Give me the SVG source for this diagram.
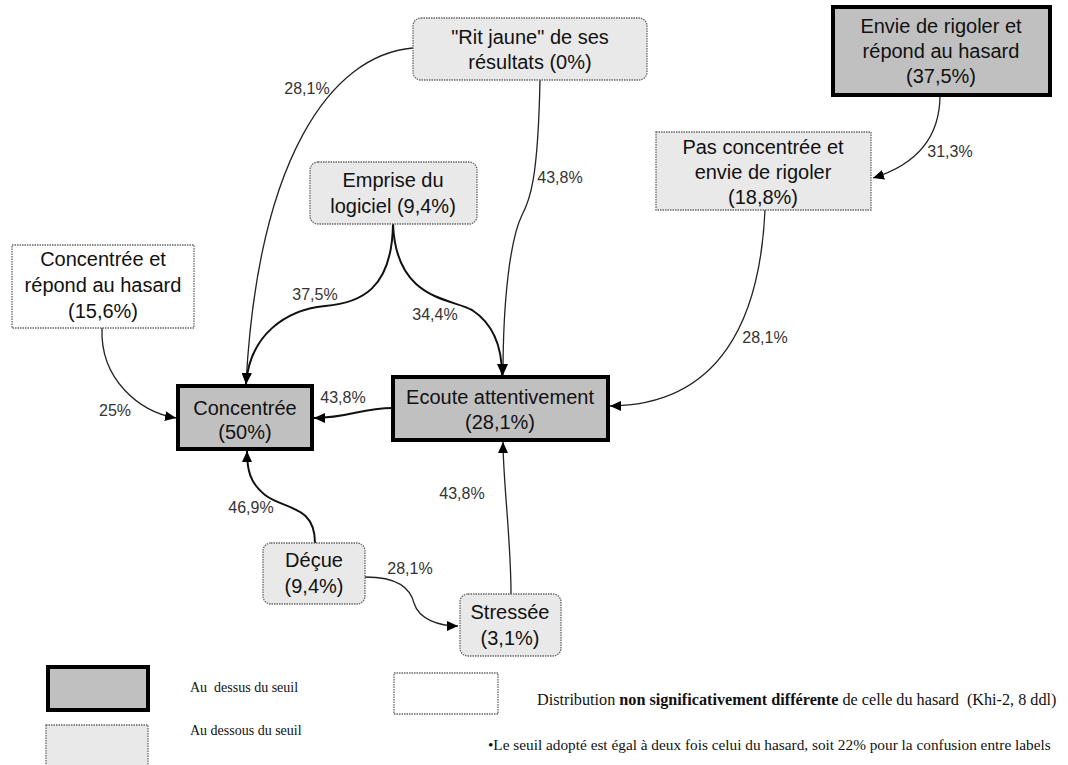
<svg xmlns="http://www.w3.org/2000/svg" width="1068" height="765" viewBox="0 0 1068 765">
<style>
.bg{fill:#ffffff}
.above{fill:#c0c0c0;stroke:#000;stroke-width:4}
.below{fill:#e9e9e9;stroke:#666;stroke-width:1.3;stroke-dasharray:1.5 1}
.ns{fill:#ffffff;stroke:#666;stroke-width:1.3;stroke-dasharray:1.5 1}
.nt{font-family:"Liberation Sans",Arial,sans-serif;font-size:20px;fill:#111;text-anchor:middle}
.lbl{font-family:"Liberation Sans",Arial,sans-serif;font-size:16px;fill:#333;text-anchor:middle}
.leg{font-family:"Liberation Serif","Times New Roman",serif;font-size:14px;fill:#111}
.leg2{font-family:"Liberation Serif","Times New Roman",serif;font-size:15.3px;fill:#111}
.leg3{font-family:"Liberation Serif","Times New Roman",serif;font-size:16.2px;fill:#111}
.c{fill:none;stroke:#222;stroke-width:1.3}
.cb{fill:none;stroke:#111;stroke-width:2}
</style>
<defs>
<marker id="ah" markerUnits="userSpaceOnUse" markerWidth="12" markerHeight="10" refX="11" refY="5" orient="auto">
<path d="M0,0 L11,5 L0,10 z" fill="#000"/>
</marker>
</defs>
<rect class="bg" x="0" y="0" width="1068" height="765"/>

<g id="connectors">
<path class="c" d="M413,48 C330,55 258,160 246,384" marker-end="url(#ah)"/>
<path class="cb" d="M393,224 C392,290 360,303 325,306 C285,310 250,335 246,384" marker-end="url(#ah)"/>
<path class="cb" d="M393,224 C396,300 450,298 472,310 C495,325 502,350 502,375" marker-end="url(#ah)"/>
<path class="c" d="M540,80 C538,180 530,200 522,215 C510,240 503,300 503,375" marker-end="url(#ah)"/>
<path class="c" d="M940,95 C940,138 915,165 873,178" marker-end="url(#ah)"/>
<path class="c" d="M765,210 C760,320 720,405 610,406" marker-end="url(#ah)"/>
<path class="c" d="M102,328 C100,380 140,412 176,418" marker-end="url(#ah)"/>
<path class="cb" d="M393,408 C360,408 350,418 314,418" marker-end="url(#ah)"/>
<path class="cb" d="M315,543 C315,505 285,510 265,495 C250,483 247,470 247,451" marker-end="url(#ah)"/>
<path class="c" d="M365,577 C398,577 410,588 414,603 C419,620 440,626 458,626" marker-end="url(#ah)"/>
<path class="c" d="M511,594 C511,540 503,480 503,442" marker-end="url(#ah)"/>
<text class="lbl" x="307" y="94">28,1%</text>
<text class="lbl" x="560" y="183">43,8%</text>
<text class="lbl" x="950" y="157">31,3%</text>
<text class="lbl" x="315" y="300">37,5%</text>
<text class="lbl" x="435" y="320">34,4%</text>
<text class="lbl" x="765" y="343">28,1%</text>
<text class="lbl" x="343" y="403">43,8%</text>
<text class="lbl" x="115" y="416">25%</text>
<text class="lbl" x="251" y="513">46,9%</text>
<text class="lbl" x="410" y="574">28,1%</text>
<text class="lbl" x="462" y="499">43,8%</text>
</g>

<g id="node-rit">
<rect class="below" x="413" y="18" width="234" height="62" rx="8"/>
<text class="nt" x="530" y="44">"Rit jaune" de ses</text>
<text class="nt" x="530" y="69">résultats (0%)</text>
</g>
<g id="node-envie">
<rect class="above" x="833" y="7" width="217" height="88"/>
<text class="nt" x="941" y="33">Envie de rigoler et</text>
<text class="nt" x="941" y="58">répond au hasard</text>
<text class="nt" x="941" y="83">(37,5%)</text>
</g>
<g id="node-pas">
<rect class="below" x="656" y="132" width="215" height="78"/>
<text class="nt" x="763" y="154">Pas concentrée et</text>
<text class="nt" x="763" y="179">envie de rigoler</text>
<text class="nt" x="763" y="204">(18,8%)</text>
</g>
<g id="node-conc-hasard">
<rect class="ns" x="12" y="245" width="182" height="83"/>
<text class="nt" x="103" y="266">Concentrée et</text>
<text class="nt" x="103" y="292">répond au hasard</text>
<text class="nt" x="103" y="318">(15,6%)</text>
</g>
<g id="node-emprise">
<rect class="below" x="310" y="162" width="167" height="62" rx="8"/>
<text class="nt" x="393" y="187">Emprise du</text>
<text class="nt" x="393" y="213">logiciel (9,4%)</text>
</g>
<g id="node-concentree">
<rect class="above" x="178" y="386" width="134" height="63"/>
<text class="nt" x="245" y="415">Concentrée</text>
<text class="nt" x="245" y="439">(50%)</text>
</g>
<g id="node-ecoute">
<rect class="above" x="393" y="377" width="215" height="63"/>
<text class="nt" x="500" y="404">Ecoute attentivement</text>
<text class="nt" x="500" y="429">(28,1%)</text>
</g>
<g id="node-decue">
<rect class="below" x="263" y="543" width="102" height="61" rx="8"/>
<text class="nt" x="314" y="567">Déçue</text>
<text class="nt" x="314" y="593">(9,4%)</text>
</g>
<g id="node-stressee">
<rect class="below" x="460" y="594" width="101" height="62" rx="8"/>
<text class="nt" x="510" y="619">Stressée</text>
<text class="nt" x="510" y="645">(3,1%)</text>
</g>

<g id="legend">
<rect class="above" x="48" y="667" width="100" height="43"/>
<rect class="below" x="46" y="725" width="102" height="45"/>
<rect class="ns" x="394" y="673" width="104" height="41"/>
<text class="leg" x="190" y="692" xml:space="preserve">Au  dessus du seuil</text>
<text class="leg" x="190" y="735">Au dessous du seuil</text>
<text class="leg3" x="537" y="705" xml:space="preserve">Distribution <tspan font-weight="bold">non significativement différente</tspan> de celle du hasard  (Khi-2, 8 ddl)</text>
<text class="leg2" x="488" y="750">•Le seuil adopté est égal à deux fois celui du hasard, soit 22% pour la confusion entre labels</text>
</g>
</svg>
